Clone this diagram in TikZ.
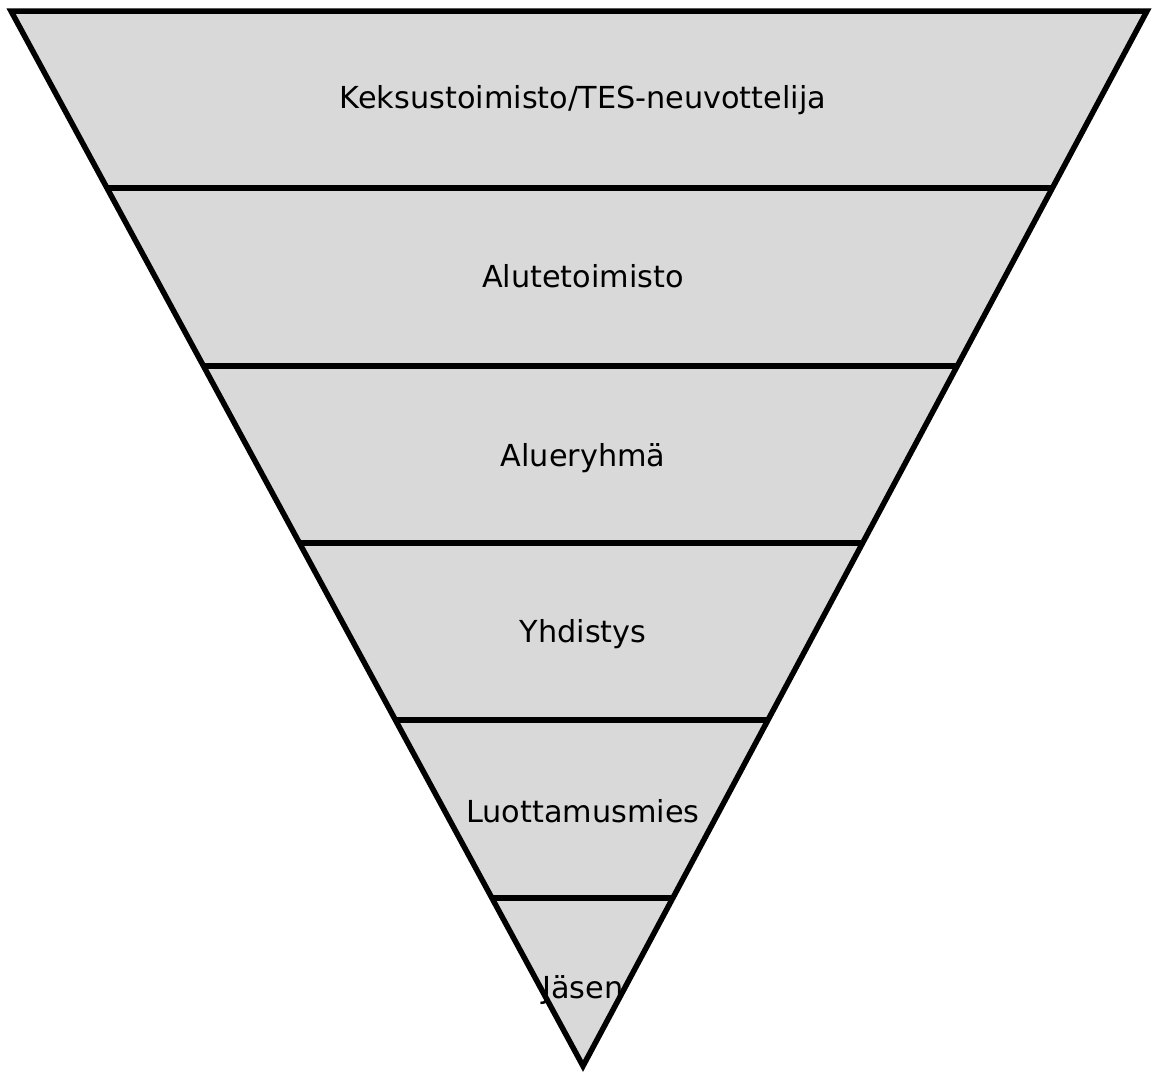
\documentclass[tikz,border=0pt]{standalone}
\usepackage{fontspec}
\setmainfont{DejaVu Sans}
\usetikzlibrary{calc}
\definecolor{layergray}{HTML}{D9D9D9}

\begin{document}
\begin{tikzpicture}[x=1pt, y=-1pt,
  layer/.style={anchor=base, font=\fontsize{30.3}{36}\selectfont}]
  \useasboundingbox (0,0) rectangle (1158,1074);
  % Triangle
  \coordinate (tl) at (11,11);
  \coordinate (tr) at (1147,11);
  \coordinate (tip) at (583,1066);
  \fill[layergray] (tl) -- (tr) -- (tip) -- cycle;
  % Dividers
  \foreach \y in {188,366,543,720,898} {
    \pgfmathsetmacro\t{(\y-11)/1055}
    \draw[line width=5.5pt] ($(tl)!\t!(tip)$) -- ($(tr)!\t!(tip)$);
  }
  \draw[line width=5.5pt, line join=miter] (tl) -- (tr) -- (tip) -- cycle;
  % Levels
  \node[layer] (keskus) at (583,108) {Keksustoimisto/TES-neuvottelija};
  \node[layer] (alue) at (583,287) {Alutetoimisto};
  \node[layer] (ryhma) at (583,466) {Alueryhmä};
  \node[layer] (yhdistys) at (583,642) {Yhdistys};
  \node[layer] (lm) at (583,822) {Luottamusmies};
  \node[layer] (jasen) at (583,998) {Jäsen};
\end{tikzpicture}
\end{document}
